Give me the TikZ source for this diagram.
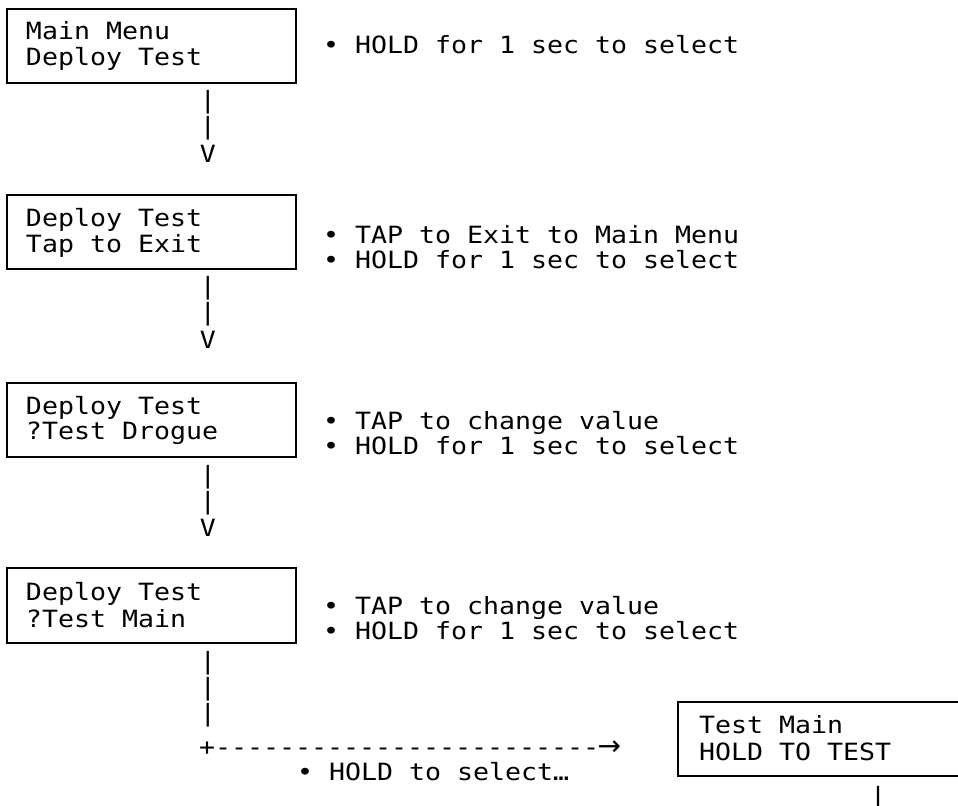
\documentclass[tikz,border=0pt]{standalone}
\usepackage{fontspec}
\newfontfamily\asciifont[FakeStretch=1.12,Ligatures=TeXOff]{DejaVu Sans Mono}
\newfontfamily\arrowfont{DejaVu Sans}
\begin{document}
\begin{tikzpicture}[x=0.75pt,y=-0.75pt,
  txt/.style={anchor=base west, inner sep=0pt, outer sep=0pt,
    font=\asciifont\fontsize{17.8pt}{19.5pt}\selectfont},
  asciiart/.style={anchor=base, inner sep=0pt, outer sep=0pt,
    font=\asciifont\fontsize{17.8pt}{19.5pt}\selectfont},
  screen/.style={draw, line width=1.5pt, anchor=north west, inner sep=0pt, outer sep=0pt,
    minimum width=216.75pt, minimum height=55.5pt}]
\useasboundingbox (0,0) rectangle (958,806);
\clip (0,0) rectangle (958,806);

% screen 1
\node[screen] (s1) at (7,9) {};
\node[txt] (s1a) at (26,40) {Main Menu};
\node[txt] (s1b) at (26,66) {Deploy Test};
\node[txt] (n1a) at (323,54) {• HOLD for 1 sec to select};
\node[asciiart] (c1a) at (208,109) {|};
\node[asciiart] (c1b) at (208,135) {|};
\node[asciiart] (c1v) at (208,163) {V};

% screen 2
\node[screen] (s2) at (7,195) {};
\node[txt] (s2a) at (26,227) {Deploy Test};
\node[txt] (s2b) at (26,253) {Tap to Exit};
\node[txt] (n2a) at (323,244) {• TAP to Exit to Main Menu};
\node[txt] (n2b) at (323,269) {• HOLD for 1 sec to select};
\node[asciiart] (c2a) at (208,295) {|};
\node[asciiart] (c2b) at (208,321) {|};
\node[asciiart] (c2v) at (208,349) {V};

% screen 3
\node[screen] (s3) at (7,383) {};
\node[txt] (s3a) at (26,415) {Deploy Test};
\node[txt] (s3b) at (26,440) {?Test Drogue};
\node[txt] (n3a) at (323,429) {• TAP to change value};
\node[txt] (n3b) at (323,454) {• HOLD for 1 sec to select};
\node[asciiart] (c3a) at (208,483) {|};
\node[asciiart] (c3b) at (208,509) {|};
\node[asciiart] (c3v) at (208,536) {V};

% screen 4
\node[screen, minimum height=56.25pt] (s4) at (7,568) {};
\node[txt] (s4a) at (26,600) {Deploy Test};
\node[txt] (s4b) at (26,627) {?Test Main};
\node[txt] (n4a) at (323,614) {• TAP to change value};
\node[txt] (n4b) at (323,639) {• HOLD for 1 sec to select};
\node[asciiart] (c4a) at (208,669) {|};
\node[asciiart] (c4b) at (208,695) {|};
\node[asciiart] (c4c) at (208,721) {|};
\node[txt] (c4h) at (199,755) {+------------------------\hspace{-1pt}{\arrowfont\fontsize{21pt}{21pt}\selectfont →}};
\node[txt] (n5a) at (297,780) {• HOLD to select…};

% screen 5
\node[screen, minimum width=225pt] (s5) at (678,702) {};
\node[txt] (s5a) at (699,733) {Test Main};
\node[txt] (s5b) at (699,760) {HOLD TO TEST};
\node[asciiart] (c5a) at (878,804) {|};
\end{tikzpicture}
\end{document}
